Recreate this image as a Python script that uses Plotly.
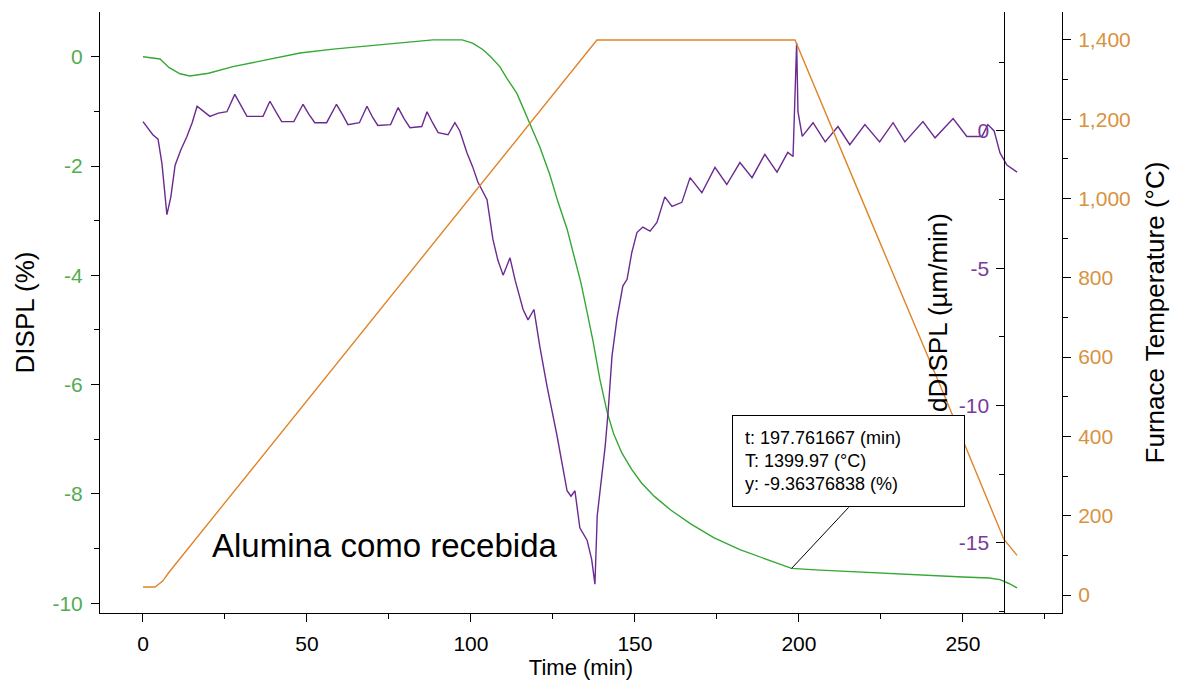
import plotly.graph_objects as go

# ---- data ----
displ_t = [0, 3, 5.2, 8, 11.3, 14.3, 20, 27.4, 38, 47.9, 58, 68.3, 78, 88.4, 97.3, 100.5,
           103.7, 106, 108.8, 111, 114, 118, 121, 124, 126.5, 129.3, 131.5, 133.5, 135.5,
           137.2, 139.3, 141.5, 143.5, 146, 149, 152, 156, 161, 167, 174, 182, 190, 197.761667,
           205, 215, 227.7, 240, 250, 258, 261.3, 264, 266.5]
displ_v = [0, -0.02, -0.04, -0.2, -0.31, -0.35, -0.3, -0.18, -0.05, 0.07, 0.14, 0.2, 0.26,
           0.31, 0.31, 0.25, 0.13, 0.0, -0.18, -0.4, -0.67, -1.22, -1.65, -2.15, -2.65, -3.15,
           -3.65, -4.13, -4.7, -5.2, -5.9, -6.5, -6.9, -7.25, -7.55, -7.8, -8.05, -8.3, -8.55,
           -8.8, -9.02, -9.2, -9.36376838, -9.39, -9.42, -9.46, -9.5, -9.52, -9.54, -9.57,
           -9.64, -9.72]

ddispl_t = [0, 1.5, 3, 4.6, 5.8, 7.3, 8.5, 9.8, 11.5, 13.4, 15, 16.5, 18.5, 20.4, 23, 25.6,
            28, 30, 31.7, 36.6, 38.7, 40.5, 42.3, 46, 48.8, 50.6, 52.4, 56, 59, 60.8, 62.5,
            66, 68.3, 70, 71.6, 75.5, 77.8, 79.6, 81.4, 85, 86.6, 88.3, 90, 93, 95.1, 96.6,
            98.8, 100.5, 102.1, 104.9, 106.7, 108.2, 109.8, 110.8, 111.9, 113.5, 115.9, 117.4,
            119.2, 121, 123.2, 126.2, 129.3, 130.5, 131.7, 133.2, 135.4, 136.8, 137.8, 138.5,
            140.9, 141.8, 143, 144.5, 146.3, 147.6, 149, 150.6, 152.4, 154.6, 156.7, 159.1,
            161.3, 164.3, 166.8, 170.4, 174.4, 178, 182, 185.7, 189.6, 193.3, 196.6, 198.2,
            198.8, 199.3, 199.7, 201, 204.3, 208, 211.9, 215.5, 220.1, 224.6, 228.7, 232.3,
            237.8, 241.5, 247, 251.2, 255.8, 257.6, 259.5, 261.3, 263.4, 266.5]
ddispl_v = [0.34, 0.1, -0.14, -0.3, -1.2, -3.05, -2.4, -1.25, -0.7, -0.2, 0.3, 0.9, 0.7,
            0.53, 0.65, 0.7, 1.33, 0.9, 0.53, 0.53, 1.08, 0.7, 0.34, 0.34, 0.97, 0.6, 0.3,
            0.3, 0.97, 0.6, 0.23, 0.3, 0.9, 0.5, 0.2, 0.23, 0.85, 0.45, 0.12, 0.16, 0.7, 0.3,
            -0.06, -0.14, 0.3, 0.0, -0.8, -1.3, -1.86, -2.5, -3.95, -4.7, -5.25, -4.95, -4.62,
            -5.45, -6.5, -6.88, -6.5, -7.85, -9.3, -11.07, -13.1, -13.3, -13.1, -14.45, -14.9,
            -15.6, -16.5, -14.0, -11.5, -10.26, -8.2, -6.84, -5.65, -5.4, -4.45, -3.7, -3.5,
            -3.65, -3.33, -2.4, -2.75, -2.6, -1.7, -2.25, -1.33, -1.95, -1.15, -1.7, -0.85,
            -1.5, -0.78, -0.93, 1.2, 3.2, 0.7, -0.2, 0.3, -0.4, 0.16, -0.5, 0.23, -0.4, 0.3,
            -0.4, 0.34, -0.25, 0.45, -0.2, -0.2, 0.23, 0.0, -0.8, -1.24, -1.5]

temp_t = [0, 3.7, 6, 8, 138.4, 198.8, 221.6, 245, 262.5, 266.5]
temp_v = [20, 20, 35, 58, 1400, 1400, 950, 490, 140, 100]

x_ticks = [0, 50, 100, 150, 200, 250]
displ_ticks = [0, -2, -4, -6, -8, -10]
ddispl_ticks = [0, -5, -10, -15]
temp_ticks = [0, 200, 400, 600, 800, 1000, 1200, 1400]

cursor_text = "t: 197.761667 (min)<br>T: 1399.97 (°C)<br>y: -9.36376838 (%)"
sample_label = "Alumina como recebida"

GREEN = "#35a835"
PURPLE = "#6b2a90"
ORANGE = "#e0842a"
GREEN_T = "#52ac52"
PURPLE_T = "#7a3a9c"
ORANGE_T = "#d8923e"

ARIAL = "Liberation Sans, Arial, sans-serif"


def hyphen_labels(vals, fmt="{:g}"):
    return [fmt.format(v).replace("\u2212", "-") for v in vals]


fig = go.Figure()
fig.add_trace(go.Scatter(x=temp_t, y=temp_v, yaxis="y3", mode="lines",
                         line=dict(color=ORANGE, width=1.4), name="T"))
fig.add_trace(go.Scatter(x=displ_t, y=displ_v, yaxis="y", mode="lines",
                         line=dict(color=GREEN, width=1.4), name="DISPL"))
fig.add_trace(go.Scatter(x=ddispl_t, y=ddispl_v, yaxis="y2", mode="lines",
                         line=dict(color=PURPLE, width=1.4), name="dDISPL"))

axis_common = dict(showline=True, linecolor="black", linewidth=1, ticks="outside",
                   ticklen=8, tickcolor="black", showgrid=False, zeroline=False,
                   automargin=False)

# the page body has an 8 px default margin; the figure is sized so that it still
# fills the 1181x683 window with the plot area where the reference has it
fig.update_layout(
    width=1173, height=675,
    margin=dict(l=92, r=119, t=4, b=70),
    paper_bgcolor="white", plot_bgcolor="white",
    showlegend=False,
    xaxis=dict(range=[-13.1, 280.2], tickvals=x_ticks, ticktext=hyphen_labels(x_ticks),
               **axis_common, ticklabelstandoff=4,
               minor=dict(dtick=25, tick0=0, ticks="outside", ticklen=5, tickcolor="black"),
               tickfont=dict(family=ARIAL, size=21, color="black"),
               title=dict(text="Time (min)", font=dict(family=ARIAL, size=22, color="black"),
                          standoff=0)),
    yaxis=dict(range=[-10.18, 0.82], tickvals=displ_ticks, ticktext=hyphen_labels(displ_ticks),
               **axis_common, ticklabelstandoff=4,
               minor=dict(dtick=1, tick0=0, ticks="outside", ticklen=5, tickcolor="black"),
               tickfont=dict(family=ARIAL, size=21, color=GREEN_T),
               title=dict(text="DISPL (%)", font=dict(family=ARIAL, size=26, color="black"),
                          standoff=10)),
    yaxis2=dict(range=[-17.55, 4.33], tickvals=ddispl_ticks, ticktext=hyphen_labels(ddispl_ticks),
                overlaying="y", anchor="free", position=0.94, side="left", **axis_common,
                ticklabelstandoff=3,
                minor=dict(dtick=2.5, tick0=0, ticks="outside", ticklen=5, tickcolor="black"),
                tickfont=dict(family=ARIAL, size=21, color=PURPLE_T),
                title=dict(text="dDISPL (µm/min)", font=dict(family=ARIAL, size=26, color="black"),
                           standoff=2)),
    yaxis3=dict(range=[-45.4, 1470.6], tickvals=temp_ticks, tickformat=",", overlaying="y",
                anchor="x", side="right", **axis_common, ticklabelstandoff=3,
                minor=dict(dtick=100, tick0=0, ticks="outside", ticklen=5, tickcolor="black"),
                tickfont=dict(family=ARIAL, size=21, color=ORANGE_T),
                title=dict(text="Furnace Temperature (°C)",
                           font=dict(family=ARIAL, size=26, color="black"), standoff=16)),
    annotations=[
        dict(x=197.761667, y=-9.36376838, xref="x", yref="y", text=cursor_text,
             showarrow=True, arrowhead=0, arrowwidth=1, arrowcolor="black",
             ax=57, ay=-61, xanchor="center", yanchor="bottom", align="left",
             valign="middle", width=207, height=66, borderpad=12,
             bordercolor="black", borderwidth=1, bgcolor="white",
             font=dict(family=ARIAL, size=18, color="black")),
        dict(x=0.1143, y=0.113, xref="paper", yref="paper", text=sample_label,
             showarrow=False, xanchor="left", yanchor="middle",
             font=dict(family=ARIAL, size=33, color="black")),
    ],
)

fig.write_html("out.html")
